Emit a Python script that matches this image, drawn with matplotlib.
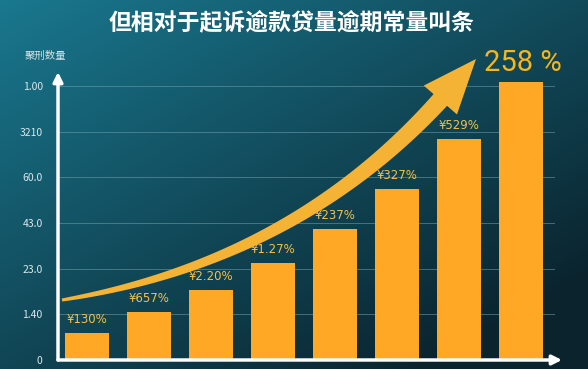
import matplotlib
matplotlib.use('Agg')
import matplotlib.pyplot as plt
from matplotlib.patches import Polygon
import numpy as np

plt.rcParams['font.family'] = ['Noto Sans CJK SC', 'DejaVu Sans']

# data (bar heights in tick units)
categories = ['1', '2', '3', '4', '5', '6', '7', '8']
values = [0.59, 1.05, 1.53, 2.12, 2.87, 3.74, 4.84, 6.08]
bar_labels = ['¥130%', '¥657%', '¥2.20%', '¥1.27%', '¥237%', '¥327%', '¥529%', '258 %']
tick_pos = [0, 1, 2, 3, 4, 5, 6]
tick_labels = ['0', '1.40', '23.0', '43.0', '60.0', '3210', '1.00']

title = '但相对于起诉逾款贷量逾期常量叫条'
ylabel = '聚刑数量'

W, H = 588, 369
fig = plt.figure(figsize=(W / 100, H / 100), dpi=100)

# background gradient
bg = fig.add_axes([0, 0, 1, 1], zorder=0)
xx, yy = np.meshgrid(np.linspace(0, 1, W), np.linspace(0, 1, H))
t = np.clip(0.55 * xx + 0.6 * yy, 0, 1)[..., None]
c_tl = np.array([0.10, 0.47, 0.56])
c_br = np.array([0.04, 0.14, 0.18])
img = c_tl * (1 - t) + c_br * t
bg.imshow(img, aspect='auto', extent=[0, W, H, 0])
bg.set_xlim(0, W)
bg.set_ylim(H, 0)
bg.axis('off')

# main axes, placed in pixels
x0, x1, ytop, ybot = 58, 562, 72, 360
ax = fig.add_axes([x0 / W, (H - ybot) / H, (x1 - x0) / W, (ybot - ytop) / H], zorder=2)
ax.patch.set_alpha(0)
unit = 45.7
ax.set_ylim(0, (ybot - ytop) / unit)
ax.set_xlim((x0 - 87) / 62, (x1 - 87) / 62)

for s in ax.spines.values():
    s.set_visible(False)

ax.set_yticks(tick_pos)
ax.set_yticklabels(tick_labels, color='#dce8ec', fontsize=7.5)
ax.tick_params(axis='y', length=0, pad=11)
ax.set_xticks([])
for p in tick_pos[1:]:
    ax.axhline(p, xmin=0, xmax=0.985, color='#6fa0ad', lw=0.7, alpha=0.55, zorder=1)

x = np.arange(len(categories))
ax.bar(x, values, width=0.72, color='#FFA826', zorder=3)

for i, (v, lab) in enumerate(zip(values, bar_labels)):
    if i == len(values) - 1:
        ax.annotate(lab, (i + 0.03, v), xytext=(0, 4), textcoords='offset points',
                    ha='center', va='bottom', color='#F6B61E', fontsize=21,
                    family='Roboto', zorder=5)
    else:
        ax.annotate(lab, (i, v), xytext=(0, 5), textcoords='offset points',
                    ha='center', va='bottom', color='#F3C04A', fontsize=8.5,
                    family='DejaVu Sans', zorder=5)

# axis arrows
ax.annotate('', xy=(0, 1), xytext=(0, 0), xycoords='axes fraction',
            arrowprops=dict(arrowstyle='-|>', color='white', lw=2.5, mutation_scale=14,
                            shrinkA=0, shrinkB=0), zorder=6)
ax.annotate('', xy=(1, 0), xytext=(0, 0), xycoords='axes fraction',
            arrowprops=dict(arrowstyle='-|>', color='white', lw=2.5, mutation_scale=14,
                            shrinkA=0, shrinkB=0), zorder=6)

# big curved trend arrow, drawn in pixel space
ov = fig.add_axes([0, 0, 1, 1], zorder=3)
ov.set_xlim(0, W)
ov.set_ylim(H, 0)
ov.axis('off')
P0 = np.array([62, 300.0])
P1 = np.array([295, 262.0])
P2 = np.array([443, 97.0])
tt = np.linspace(0, 1, 80)[:, None]
pts = (1 - tt) ** 2 * P0 + 2 * (1 - tt) * tt * P1 + tt ** 2 * P2
d = 2 * (1 - tt) * (P1 - P0) + 2 * tt * (P2 - P1)
d = d / np.linalg.norm(d, axis=1, keepdims=True)
nrm = np.column_stack([-d[:, 1], d[:, 0]])
w = (1.5 + 7.5 * tt[:, 0] ** 0.8)[:, None]
shaft = np.vstack([pts + nrm * w, (pts - nrm * w)[::-1]])
ov.add_patch(Polygon(shaft, closed=True, color='#F5B335', lw=0))
tip = np.array([476, 59.0])
dirv = (tip - P2) / np.linalg.norm(tip - P2)
n2 = np.array([-dirv[1], dirv[0]])
base = P2 - dirv * 4
head = np.array([tip, base + n2 * 22, base - n2 * 22])
ov.add_patch(Polygon(head, closed=True, color='#F5B335', lw=0))

fig.text(292 / W, 1 - 23 / H, title, ha='center', va='center', color='white',
         fontsize=16.5, fontweight='bold')
fig.text(45 / W, 1 - 56 / H, ylabel, ha='center', va='center', color='#d4e2e6',
         fontsize=7.5)

fig.savefig('out.png', dpi=100)
